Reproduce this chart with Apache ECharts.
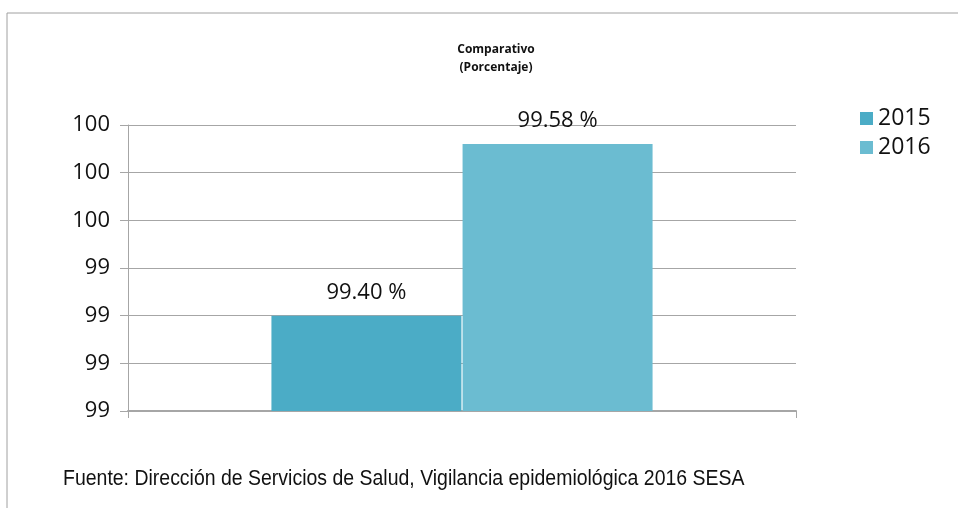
<!DOCTYPE html>
<html>
<head>
<meta charset="utf-8">
<script src="https://cdn.jsdelivr.net/npm/echarts@6/dist/echarts.min.js"></script>
<style>
    html, body { margin: 0; padding: 0; background: #fff; }
    #main { width: 958px; height: 508px; }
</style>
</head>
<body>
<div id="main"></div>
<script>
// datos del grafico
var categorias = [''];
var anios = ['2015', '2016'];
var valores_2015 = [99.40];
var valores_2016 = [99.58];
var colores = ['#4bacc6', '#6bbcd1'];

var myChart = echarts.init(document.getElementById('main'));
var option = null;

var etiqueta = {
    show: true,
    position: 'top',
    distance: 12,
    color: '#111',
    fontSize: 22,
    fontFamily: 'Open Sans',
    formatter: function (p) { return p.value.toFixed(2) + ' %'; }
};

option = {
    animation: false,
    title: {
        text: 'Comparativo\n(Porcentaje)',
        left: 491,
        top: 36,
        textAlign: 'center',
        textStyle: {
            fontSize: 12,
            fontWeight: 'bold',
            lineHeight: 18,
            color: '#111',
            fontFamily: 'Open Sans'
        }
    },
    legend: {
        data: anios,
        orient: 'vertical',
        left: 855,
        top: 102,
        icon: 'rect',
        itemWidth: 13,
        itemHeight: 13,
        itemGap: 6,
        textStyle: { fontSize: 23, color: '#111', fontFamily: 'Open Sans' }
    },
    grid: { left: 128, right: 162, top: 125, bottom: 97 },
    xAxis: {
        type: 'category',
        data: categorias,
        axisLine: { lineStyle: { color: '#a6a6a6', width: 2 } },
        axisTick: { show: true, length: 7, lineStyle: { color: '#a6a6a6' } },
        axisLabel: { show: false }
    },
    yAxis: {
        type: 'value',
        min: 99.30,
        max: 99.60,
        interval: 0.05,
        axisLine: { show: true, lineStyle: { color: '#a6a6a6' } },
        axisTick: { show: true, length: 8, lineStyle: { color: '#a6a6a6' } },
        splitLine: { lineStyle: { color: '#a6a6a6' } },
        axisLabel: {
            margin: 18,
            fontSize: 22,
            color: '#111',
            fontFamily: 'Open Sans',
            formatter: function (v) { return v.toFixed(0); }
        }
    },
    graphic: [
        {
            type: 'rect',
            shape: { x: 7, y: 13, width: 1200, height: 800 },
            style: { fill: 'none', stroke: '#a0a0a0', lineWidth: 1 },
            silent: true
        },
        {
            // fuente estrecha simulada (Arial Narrow no instalada)
            type: 'text',
            x: 63,
            y: 468,
            scaleX: 0.885,
            style: {
                text: 'Fuente: Dirección de Servicios de Salud, Vigilancia epidemiológica 2016 SESA',
                fontSize: 22,
                fontFamily: 'Liberation Sans',
                fill: '#111'
            }
        }
    ],
    series: [
        {
            name: anios[0],
            type: 'bar',
            data: valores_2015,
            barWidth: 190,
            barGap: '0.6%',
            itemStyle: { color: colores[0] },
            label: etiqueta
        },
        {
            name: anios[1],
            type: 'bar',
            data: valores_2016,
            barWidth: 190,
            itemStyle: { color: colores[1] },
            label: etiqueta
        }
    ]
};

if (option && typeof option === "object") {
    myChart.setOption(option, true);
}
</script>
</body>
</html>
